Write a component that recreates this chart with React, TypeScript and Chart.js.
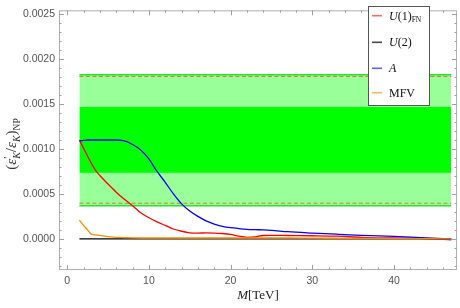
import React, { useEffect, useRef } from "react";
import { Chart, registerables } from "chart.js";

Chart.register(...registerables);

// ---- data ----
const M_TEV = [1.5, 2, 2.5, 3, 3.5, 4, 5, 6, 7, 8, 9, 10, 11, 12, 13, 14, 15, 16, 17, 18, 19, 20, 21, 22, 23, 24, 25, 27, 30, 33, 36, 40, 44, 47];
const U1_FN = [0.0011, 0.00101, 0.00092, 0.000835, 0.00076, 0.000705, 0.00061, 0.00052, 0.00044, 0.00037, 0.00029, 0.000235, 0.00019, 0.00015, 0.00011, 0.000085, 0.000068, 0.000065, 0.000066, 0.000065, 0.00006, 0.00005, 0.00003, 0.000018, 0.000022, 0.000038, 0.00004, 0.000038, 0.000035, 0.00003, 0.000018, 0.00001, 0.000003, -0.00001];
const U2 = [0, 0, 0, 0, 0, 0, 0, 0, 0, 0, 0, 0, 0, 0, 0, 0, 0, 0, 0, 0, 0, 0, 0, 0, 0, 0, 0, 0, 0, 0, 0, 0, 0, 0];
const A_MODEL = [0.00109, 0.001095, 0.0011, 0.0011, 0.0011, 0.0011, 0.0011, 0.0011, 0.00109, 0.00105, 0.00099, 0.00089, 0.00075, 0.00063, 0.0005, 0.00039, 0.00031, 0.00025, 0.0002, 0.000165, 0.00014, 0.000125, 0.000115, 0.000107, 0.000103, 0.0001, 0.000095, 0.00008, 0.000065, 0.000052, 0.00004, 0.000027, 0.000012, 0];
const MFV = [0.00021, 0.00015, 0.0001, 0.00005, 0.000045, 0.00004, 0.000025, 0.000018, 0.000015, 0.000012, 0.00001, 0.00001, 0.00001, 0.00001, 0.00001, 0.00001, 0.00001, 0.00001, 0.00001, 0.00001, 0.00001, 0.00001, 0.00001, 0.00001, 0.00001, 0.00001, 0.00001, 0.00001, 0.000008, 0.000007, 0.000006, 0.000004, 0.000002, 0];

const BAND_X = [1.5, 47];
const OUTER_BAND = [0.000368, 0.001826];
const INNER_BAND = [0.000736, 0.001468];
const DASHED_LEVELS = [0.000397, 0.001807];

const X_TICKS = [0, 10, 20, 30, 40];
const Y_TICKS = [0, 0.0005, 0.001, 0.0015, 0.002, 0.0025];
const X_RANGE = [-1, 47.7];
const Y_RANGE = [-0.000346, 0.002543];

const SERIES_LABELS = ["U(1)FN", "U(2)", "A", "MFV"];
const SERIES_COLORS = ["#ff0000", "#000000", "#0000ff", "#ff8c00"];
const LEGEND_COLORS = ["rgba(255,60,60,0.75)", "rgba(40,40,40,0.85)", "rgba(40,40,255,0.75)", "rgba(255,150,40,0.7)"];

const SERIF = '"Liberation Serif", "DejaVu Serif", serif';
const SANS = '"Liberation Sans", Arial, sans-serif';

type Seg = { t: string; it?: boolean; size: number; dy?: number; same?: boolean };

function richWidth(ctx: CanvasRenderingContext2D, segs: Seg[]) {
  let w = 0;
  let lastStart = 0;
  let lastW = 0;
  for (const s of segs) {
    ctx.font = `${s.it ? "italic " : ""}${s.size}px ${SERIF}`;
    const sw = ctx.measureText(s.t).width;
    if (s.same) {
      const end = lastStart + Math.max(lastW, sw);
      w = end;
      lastW = Math.max(lastW, sw);
    } else {
      lastStart = w;
      lastW = sw;
      w += sw;
    }
  }
  return w;
}

function drawRich(ctx: CanvasRenderingContext2D, segs: Seg[], x: number, y: number, align: "left" | "center") {
  const total = richWidth(ctx, segs);
  let cx = align === "center" ? x - total / 2 : x;
  let lastStart = cx;
  let lastW = 0;
  ctx.textAlign = "left";
  ctx.textBaseline = "alphabetic";
  for (const s of segs) {
    ctx.font = `${s.it ? "italic " : ""}${s.size}px ${SERIF}`;
    const sw = ctx.measureText(s.t).width;
    if (s.same) {
      ctx.fillText(s.t, lastStart, y + (s.dy || 0));
      const end = lastStart + Math.max(lastW, sw);
      lastW = Math.max(lastW, sw);
      cx = end;
    } else {
      ctx.fillText(s.t, cx, y + (s.dy || 0));
      lastStart = cx;
      lastW = sw;
      cx += sw;
    }
  }
}

const LEGEND_SEGS: Seg[][] = [
  [{ t: "U", it: true, size: 12 }, { t: "(1)", size: 12 }, { t: "FN", size: 7.5, dy: 2.5 }],
  [{ t: "U", it: true, size: 12 }, { t: "(2)", size: 12 }],
  [{ t: "A", it: true, size: 12 }],
  [{ t: "MFV", size: 12 }],
];

const decorPlugin = {
  id: "decor",
  afterDatasetsDraw(chart: any) {
    const { ctx, chartArea, scales } = chart;
    const { left, right, top, bottom } = chartArea;
    const xs = scales.x;
    const ys = scales.y;
    ctx.save();
    // frame
    ctx.strokeStyle = "#b0b0b0";
    ctx.lineWidth = 1;
    ctx.strokeRect(left + 0.5, top + 0.5, right - left - 1, bottom - top - 1);
    // ticks
    ctx.strokeStyle = "#a0a0a0";
    ctx.beginPath();
    for (let k = -3; k <= 25; k++) {
      const v = k * 0.0001;
      const py = Math.round(ys.getPixelForValue(v)) + 0.5;
      if (py < top || py > bottom) continue;
      const len = k % 5 === 0 ? 5 : 2.5;
      ctx.moveTo(left, py);
      ctx.lineTo(left + len, py);
      ctx.moveTo(right, py);
      ctx.lineTo(right - len, py);
    }
    for (let k = 0; k <= 46; k += 2) {
      const px = Math.round(xs.getPixelForValue(k)) + 0.5;
      const len = k % 10 === 0 ? 5 : 2.5;
      ctx.moveTo(px, bottom);
      ctx.lineTo(px, bottom - len);
      ctx.moveTo(px, top);
      ctx.lineTo(px, top + len);
    }
    ctx.stroke();

    // legend
    const lx = 368.5, ly = 6.5, lw = 61, lh = 99;
    ctx.fillStyle = "#ffffff";
    ctx.fillRect(lx, ly, lw, lh);
    ctx.strokeStyle = "#555555";
    ctx.lineWidth = 1;
    ctx.strokeRect(lx, ly, lw, lh);
    const rows = [15.7, 42.3, 68.3, 92.7];
    SERIES_LABELS.forEach((_, i) => {
      const cy = rows[i];
      ctx.strokeStyle = LEGEND_COLORS[i];
      ctx.lineWidth = 1.6;
      ctx.beginPath();
      ctx.moveTo(372, cy);
      ctx.lineTo(382, cy);
      ctx.stroke();
      ctx.fillStyle = "#111";
      drawRich(ctx, LEGEND_SEGS[i], 389, cy + 4, "left");
    });

    // x title
    ctx.fillStyle = "#222";
    drawRich(ctx, [{ t: "M", it: true, size: 13 }, { t: "[TeV]", size: 13 }], (left + right) / 2, 299, "center");

    // y title
    ctx.save();
    ctx.translate(16, 144);
    ctx.rotate(-Math.PI / 2);
    ctx.fillStyle = "#333";
    drawRich(
      ctx,
      [
        { t: "(", size: 15 },
        { t: "ε", it: true, size: 15 },
        { t: "′", size: 11, dy: -5 },
        { t: "K", it: true, size: 10, dy: 3.5, same: true },
        { t: "/", size: 15 },
        { t: "ε", it: true, size: 15 },
        { t: "K", it: true, size: 10, dy: 3.5 },
        { t: ")", size: 15 },
        { t: "NP", size: 9.5, dy: 4 },
      ],
      0,
      0,
      "center"
    );
    ctx.restore();
    ctx.restore();
  },
};

function pts(ys: number[]) {
  return M_TEV.map((m, i) => ({ x: m, y: ys[i] }));
}
function flat(v: number) {
  return BAND_X.map((x) => ({ x, y: v }));
}

export default function App() {
  const ref = useRef<HTMLCanvasElement | null>(null);
  useEffect(() => {
    if (!ref.current) return;
    const seriesData = [U1_FN, U2, A_MODEL, MFV];
    const seriesOrder = [4, 3, 2, 1];
    const datasets: any[] = seriesData.map((d, i) => ({
      label: SERIES_LABELS[i],
      data: pts(d),
      borderColor: SERIES_COLORS[i],
      borderWidth: 1.3,
      pointRadius: 0,
      cubicInterpolationMode: "monotone",
      fill: false,
      order: seriesOrder[i],
    }));
    datasets.push(
      {
        label: "outer band",
        data: flat(OUTER_BAND[1]),
        borderColor: "rgb(40,225,40)",
        borderWidth: 1.5,
        backgroundColor: "rgb(153,255,153)",
        fill: { value: OUTER_BAND[0] },
        pointRadius: 0,
        order: 10,
      },
      {
        label: "outer band low",
        data: flat(OUTER_BAND[0]),
        borderColor: "rgb(40,225,40)",
        borderWidth: 1.5,
        fill: false,
        pointRadius: 0,
        order: 9,
      },
      {
        label: "inner band",
        data: flat(INNER_BAND[1]),
        borderWidth: 0,
        borderColor: "rgb(0,255,0)",
        backgroundColor: "rgb(0,255,0)",
        fill: { value: INNER_BAND[0] },
        pointRadius: 0,
        order: 8,
      },
      ...DASHED_LEVELS.map((v) => ({
        label: "dashed " + v,
        data: flat(v),
        borderColor: "rgb(215,120,60)",
        borderWidth: 1,
        borderDash: [4, 2.5],
        fill: false,
        pointRadius: 0,
        order: 7,
      }))
    );

    const chart = new Chart(ref.current, {
      type: "line",
      data: { datasets },
      options: {
        responsive: false,
        animation: false,
        events: [],
        layout: { padding: { left: 0, right: 3, top: 3, bottom: 0 } },
        plugins: { legend: { display: false }, tooltip: { enabled: false } },
        scales: {
          x: {
            type: "linear",
            min: X_RANGE[0],
            max: X_RANGE[1],
            afterBuildTicks: (s: any) => {
              s.ticks = X_TICKS.map((v) => ({ value: v }));
            },
            afterFit: (s: any) => {
              s.height = 38;
            },
            grid: { display: false, drawTicks: false },
            border: { display: false },
            ticks: {
              padding: 5,
              color: "#555",
              font: { family: SANS, size: 10.5 },
              maxRotation: 0,
              autoSkip: false,
              callback: (v: any) => String(v),
            },
          },
          y: {
            type: "linear",
            min: Y_RANGE[0],
            max: Y_RANGE[1],
            afterBuildTicks: (s: any) => {
              s.ticks = Y_TICKS.map((v) => ({ value: v }));
            },
            afterFit: (s: any) => {
              s.width = 59;
            },
            grid: { display: false, drawTicks: false },
            border: { display: false },
            ticks: {
              padding: 4,
              color: "#555",
              font: { family: SANS, size: 10.5 },
              autoSkip: false,
              callback: (v: any) => Number(v).toFixed(4),
            },
          },
        },
      } as any,
      plugins: [decorPlugin],
    });
    return () => chart.destroy();
  }, []);
  return (
    <div style={{ position: "fixed", left: 0, top: 0, width: 460, height: 308, background: "#fff" }}>
      <canvas ref={ref} width={460} height={308} style={{ display: "block" }} />
    </div>
  );
}
